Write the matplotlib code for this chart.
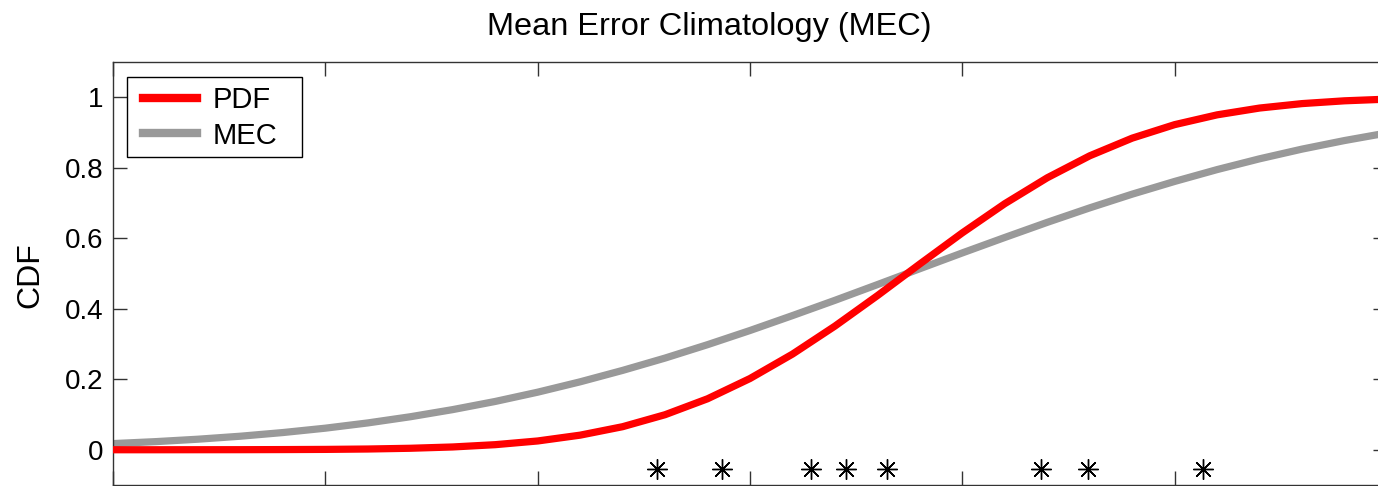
import matplotlib
matplotlib.use("Agg")
import matplotlib.pyplot as plt
from matplotlib.patches import Rectangle
from matplotlib.ticker import FixedLocator

# Evaluation grid along the error axis
x_grid = [0.0, 0.2, 0.4, 0.6, 0.8, 1.0, 1.2, 1.4, 1.6, 1.8, 2.0,
          2.2, 2.4, 2.6, 2.8, 3.0, 3.2, 3.4, 3.6, 3.8, 4.0,
          4.2, 4.4, 4.6, 4.8, 5.0, 5.2, 5.4, 5.6, 5.8, 6.0]

# Cumulative distribution of the fitted PDF
pdf_cdf = [0.0000, 0.0000, 0.0001, 0.0002, 0.0005, 0.0010, 0.0021, 0.0042,
           0.0079, 0.0144, 0.0249, 0.0414, 0.0654, 0.0994, 0.1446, 0.2021,
           0.2713, 0.3508, 0.4372, 0.5271, 0.6153, 0.6981, 0.7716, 0.8339,
           0.8840, 0.9223, 0.9501, 0.9694, 0.9820, 0.9899, 0.9946]

# Cumulative distribution of the mean error climatology
mec_cdf = [0.0175, 0.0230, 0.0299, 0.0384, 0.0488, 0.0612, 0.0761, 0.0936,
           0.1139, 0.1370, 0.1633, 0.1927, 0.2251, 0.2601, 0.2981, 0.3383,
           0.3806, 0.4239, 0.4685, 0.5136, 0.5584, 0.6022, 0.6451, 0.6862,
           0.7251, 0.7612, 0.7948, 0.8254, 0.8529, 0.8772, 0.8987]

# Individual observations shown as a rug under the curves
obs_x = [2.561, 2.870, 3.288, 3.451, 3.647, 4.369, 4.591, 5.132]
obs_level = -0.055

x_ticks = [0, 1, 2, 3, 4, 5, 6]
y_ticks = [0, 0.2, 0.4, 0.6, 0.8, 1.0]
y_tick_labels = ["0", "0.2", "0.4", "0.6", "0.8", "1"]

plt.rcParams["font.family"] = ["Liberation Sans", "DejaVu Sans"]

W, H = 1378, 486
fig = plt.figure(figsize=(W / 100, H / 100), dpi=100)
ax = fig.add_axes([113 / W, 1 - 485 / H, (1387 - 113) / W, (485 - 62) / H])

ax.plot(x_grid, pdf_cdf, color="#ff0000", lw=5.2, label="PDF",
        solid_joinstyle="round", zorder=3)
ax.plot(x_grid, mec_cdf, color="#999999", lw=5.2, label="MEC",
        solid_joinstyle="round", zorder=2)
ax.plot(obs_x, [obs_level] * len(obs_x), linestyle="none",
        marker=(8, 2, 0), markersize=14.5, markeredgewidth=1.0,
        color="black", zorder=4)

ax.set_xlim(0, 6)
ax.set_ylim(-0.1, 1.1)
ax.xaxis.set_major_locator(FixedLocator(x_ticks))
ax.set_xticklabels([])
ax.set_yticks(y_ticks)
ax.set_yticklabels(y_tick_labels)
ax.tick_params(axis="both", direction="in", length=10, width=1.0,
               color="#333333", top=True, right=True, labelsize=20,
               pad=7)
for sp in ax.spines.values():
    sp.set_color("#333333")
    sp.set_linewidth(1.0)

fig.text(709 / W, 1 - 35 / H, "Mean Error Climatology (MEC)",
         ha="center", va="baseline", fontsize=23.4)
fig.text(30 / W, 1 - 275 / H, "CDF", rotation=90, ha="center",
         va="center", fontsize=23)

# Legend box drawn separately so its padding can differ per side
box = Rectangle((127 / W, 1 - 157 / H), 175 / W, 80 / H,
                transform=fig.transFigure, facecolor="white",
                edgecolor="black", linewidth=1.0, clip_on=False, zorder=4.5)
ax.add_patch(box)

leg = ax.legend(loc="upper left",
                bbox_to_anchor=(143 / W, 1 - 86 / H),
                bbox_transform=fig.transFigure,
                fontsize=21, frameon=False, borderpad=0.0,
                handlelength=1.85, handletextpad=0.55, labelspacing=0.26,
                borderaxespad=0.0)
leg.set_zorder(5)
for line in leg.get_lines():
    line.set_linewidth(6)

fig.savefig("out.png", dpi=100)
